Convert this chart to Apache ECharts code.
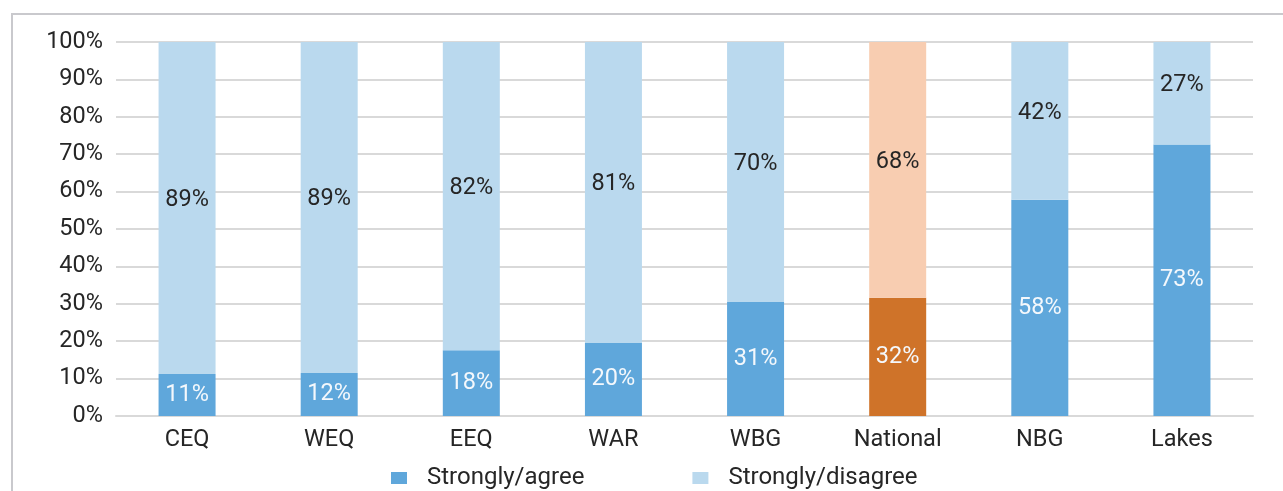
<!DOCTYPE html>
<html>
<head>
<meta charset="utf-8">
<script src="https://cdn.jsdelivr.net/npm/echarts@6/dist/echarts.min.js"></script>
<style>
html,body{margin:0;padding:0;background:#fff;}
#chart{width:1283px;height:491px;}
</style>
</head>
<body>
<div id="chart"></div>
<script>
var categories = ['CEQ', 'WEQ', 'EEQ', 'WAR', 'WBG', 'National', 'NBG', 'Lakes'];
var agree = [11.2, 11.5, 17.6, 19.5, 30.5, 31.6, 57.8, 72.6];
var disagree = [88.8, 88.5, 82.4, 80.5, 69.5, 68.4, 42.2, 27.4];
var yTicks = [0, 10, 20, 30, 40, 50, 60, 70, 80, 90, 100];
var highlightCategory = 'National';

var FONT = 'Roboto';
var FS = 23.5;
var agreeColor = '#5FA7DB';
var disagreeColor = '#BAD9EE';
var natDark = '#CF7329';
var natLight = '#F8CDB1';

function buildData(vals, hiColor) {
  return vals.map(function (v, i) {
    if (categories[i] === highlightCategory) {
      return { value: v, itemStyle: { color: hiColor } };
    }
    return v;
  });
}

var chart = echarts.init(document.getElementById('chart'), null, { renderer: 'canvas' });
chart.setOption({
  animation: false,
  backgroundColor: '#ffffff',
  graphic: [{
    type: 'rect',
    shape: { x: 12, y: 14, width: 1400, height: 600 },
    style: { fill: 'none', stroke: '#C9C9CD', lineWidth: 2 },
    silent: true,
    z: -10
  }],
  grid: { left: 116, right: 30, top: 42, bottom: 75, containLabel: false },
  legend: {
    top: 466,
    left: 391,
    padding: 0,
    itemWidth: 16,
    itemHeight: 12,
    itemGap: 108,
    icon: 'rect',
    textStyle: { fontFamily: FONT, fontSize: 24, color: '#262626', padding: [0, 0, 0, 15] },
    data: ['Strongly/agree', 'Strongly/disagree']
  },
  xAxis: {
    type: 'category',
    data: categories,
    axisLine: { show: true, lineStyle: { color: '#D9D9D9', width: 2 } },
    axisTick: { show: false },
    axisLabel: { fontFamily: FONT, fontSize: FS, color: '#262626', margin: 12 }
  },
  yAxis: {
    type: 'value',
    min: yTicks[0],
    max: yTicks[yTicks.length - 1],
    interval: yTicks[1] - yTicks[0],
    axisLine: { show: false },
    axisTick: { show: false },
    splitLine: { lineStyle: { color: '#D9D9D9', width: 2 } },
    axisLabel: {
      fontFamily: FONT, fontSize: FS, color: '#262626', margin: 13,
      formatter: function (v) { return v + '%'; }
    }
  },
  series: [
    {
      name: 'Strongly/agree',
      type: 'bar',
      stack: 'total',
      barWidth: 57,
      itemStyle: { color: agreeColor },
      label: {
        show: true, position: 'inside',
        fontFamily: FONT, fontSize: FS, color: '#F4F8FC',
        formatter: function (p) { return Math.round(p.value) + '%'; }
      },
      data: buildData(agree, natDark)
    },
    {
      name: 'Strongly/disagree',
      type: 'bar',
      stack: 'total',
      barWidth: 57,
      itemStyle: { color: disagreeColor },
      label: {
        show: true, position: 'inside', offset: [0, -8],
        fontFamily: FONT, fontSize: FS, color: '#262626',
        formatter: function (p) { return Math.round(p.value) + '%'; }
      },
      data: buildData(disagree, natLight)
    }
  ]
});
</script>
</body>
</html>
